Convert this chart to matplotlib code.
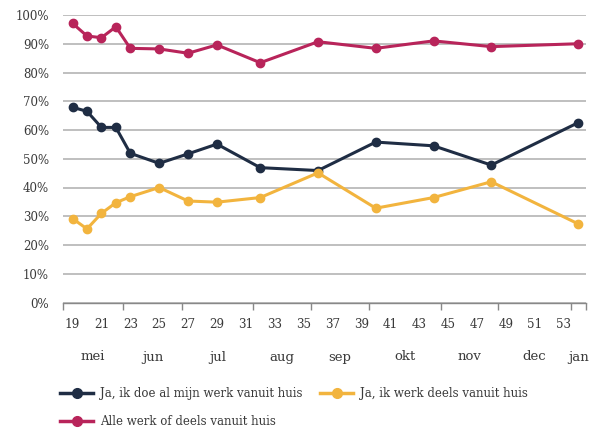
import matplotlib
matplotlib.use('Agg')
import matplotlib.pyplot as plt
from matplotlib.lines import Line2D

plt.rcParams['font.family'] = ['DejaVu Serif']

# week numbers of the survey waves (54 = first week of january)
weeks = [19, 20, 21, 22, 23, 25, 27, 29, 32, 36, 40, 44, 48, 54]
alles = [97.1, 92.7, 92.1, 95.9, 88.4, 88.2, 86.7, 89.6, 83.4, 90.7, 88.4, 91.0, 89.0, 90.0]
volledig = [67.9, 66.5, 60.9, 60.9, 51.9, 48.4, 51.7, 55.1, 46.9, 45.9, 55.8, 54.5, 47.8, 62.5]
deels = [29.2, 25.6, 31.0, 34.7, 36.8, 40.0, 35.3, 34.9, 36.5, 45.1, 32.8, 36.5, 42.0, 27.4]

week_labels = list(range(19, 54, 2))
month_edges = [18.34, 22.5, 26.58, 31.5, 35.5, 39.53, 44.5, 48.47, 53.52, 54.56]
months = ['mei', 'jun', 'jul', 'aug', 'sep', 'okt', 'nov', 'dec', 'jan']

navy = '#1f2d44'
yellow = '#f2b43e'
red = '#b8245a'
txt = '#3a3a3a'

fig = plt.figure(figsize=(5.91, 4.30), dpi=100)
ax = fig.add_axes([63/591, 1 - 302.5/430, (586 - 63)/591, 287.5/430])

for vals, col, lab in [(volledig, navy, 'Ja, ik doe al mijn werk vanuit huis'),
                       (alles, red, 'Alle werk of deels vanuit huis'),
                       (deels, yellow, 'Ja, ik werk deels vanuit huis')]:
    ax.plot(weeks, vals, color=col, lw=2.2, marker='o', ms=6, label=lab, clip_on=False, zorder=3)

ax.set_xlim(month_edges[0], month_edges[-1])
ax.set_ylim(0, 100)
ax.set_yticks(range(0, 101, 10))
ax.set_yticklabels([f'{v}%' for v in range(0, 101, 10)], fontsize=8.5, color=txt)
ax.tick_params(axis='y', length=0, pad=10)
ax.yaxis.grid(True, color='#b4b4b4', lw=1.2)
ax.set_axisbelow(True)

ax.set_xticks(month_edges)
ax.set_xticklabels([])
ax.tick_params(axis='x', length=5, width=1, color='#888888')

for s in ['top', 'right', 'left']:
    ax.spines[s].set_visible(False)
ax.spines['bottom'].set_color('#888888')
ax.spines['bottom'].set_linewidth(1)

xt = ax.get_xaxis_transform()
for w in week_labels:
    ax.text(w, -22.5/287.5, str(w), transform=xt, ha='center', va='center',
            fontsize=9.5, fontstretch='condensed', color=txt)
for i, m in enumerate(months):
    mid = (month_edges[i] + month_edges[i + 1]) / 2
    ax.text(mid, -54.5/287.5, m, transform=xt, ha='center', va='center',
            fontsize=9.5, color=txt)

handles = [Line2D([], [], color=c, lw=2.5, marker='o', ms=7) for c in (navy, red, yellow)]
labels = ['Ja, ik doe al mijn werk vanuit huis', 'Alle werk of deels vanuit huis',
          'Ja, ik werk deels vanuit huis']
leg = fig.legend(handles, labels, loc='upper left', bbox_to_anchor=(60/591, 1 - 387/430),
                 ncol=2, frameon=False, fontsize=8.5, handlelength=2.8, handletextpad=0.6,
                 columnspacing=1.5, labelspacing=1.3, borderaxespad=0, borderpad=0)
for t in leg.get_texts():
    t.set_color(txt)

fig.savefig('out.png', dpi=100)
